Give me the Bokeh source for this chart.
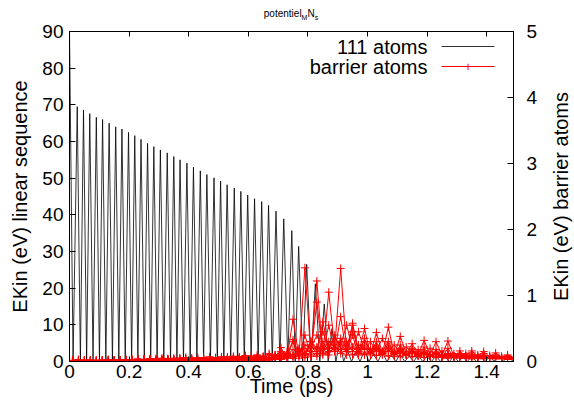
import math
from bokeh.plotting import figure
from bokeh.layouts import column, row
from bokeh.models import (Range1d, LinearAxis, FixedTicker, CustomJSTickFormatter,
                          Label, BoxAnnotation, Div)
from bokeh.embed import file_html
from bokeh.resources import INLINE

# ---------------- data ----------------
x_ticks = [0, 0.2, 0.4, 0.6, 0.8, 1.0, 1.2, 1.4]
y_left_ticks = [0, 10, 20, 30, 40, 50, 60, 70, 80, 90]
y_right_ticks = [0, 1, 2, 3, 4, 5]

# 111 atoms: starting value, then peak times / peak energies (eV), troughs at 0
black_start_t = 0.0
black_start_e = 90.0
black_peak_t = [0.026, 0.047, 0.068, 0.090, 0.111, 0.133, 0.155, 0.176, 0.198, 0.219,
                0.240, 0.262, 0.283, 0.305, 0.328, 0.350, 0.371, 0.394, 0.416, 0.439,
                0.461, 0.485, 0.507, 0.529, 0.553, 0.575, 0.598, 0.621, 0.645, 0.668,
                0.693, 0.719, 0.746, 0.769, 0.796, 0.825, 0.855, 0.881, 0.907, 0.933,
                0.960, 0.990, 1.020, 1.050, 1.080, 1.110, 1.140, 1.170, 1.200, 1.230,
                1.260, 1.290, 1.320, 1.350, 1.380, 1.410, 1.440, 1.470]
black_peak_e = [69.5, 68.6, 67.6, 66.6, 66.0, 65.0, 64.0, 63.4, 62.5, 61.6,
                60.6, 59.5, 58.6, 57.7, 56.9, 55.9, 55.0, 54.1, 53.0, 52.0,
                51.0, 50.1, 49.2, 48.2, 47.3, 46.4, 45.4, 44.4, 43.6, 42.6,
                41.0, 38.9, 35.7, 31.4, 26.5, 21.2, 15.7, 9.0, 5.5, 3.0,
                2.5, 3.0, 2.0, 2.5, 1.8, 2.0, 1.5, 1.8, 1.4, 1.6,
                1.3, 1.5, 1.2, 1.4, 1.2, 1.5, 1.8, 1.3]
black_trough_e = 0.0

# barrier atoms (right axis, eV)
barrier_t = [0.01, 0.03, 0.05, 0.07, 0.09, 0.11, 0.13, 0.15, 0.17, 0.19,
             0.21, 0.23, 0.25, 0.27, 0.29, 0.31, 0.33, 0.35, 0.37, 0.39,
             0.41, 0.43, 0.45, 0.47, 0.49, 0.51, 0.53, 0.55, 0.57, 0.59,
             0.61, 0.63, 0.65, 0.67, 0.69, 0.71, 0.73, 0.75, 0.77, 0.79,
             0.81, 0.83, 0.85, 0.87, 0.89, 0.91, 0.93, 0.95, 0.97, 0.99,
             1.01, 1.03, 1.05, 1.07, 1.09, 1.11, 1.13, 1.15, 1.17, 1.19,
             1.21, 1.23, 1.25, 1.27, 1.29, 1.31, 1.33, 1.35, 1.37, 1.39,
             1.41, 1.43, 1.45, 1.47, 1.49]
barrier_1 = [0.01, 0.02, 0.01, 0.01, 0.02, 0.01, 0.02, 0.01, 0.02, 0.02,
             0.03, 0.02, 0.03, 0.02, 0.03, 0.03, 0.04, 0.03, 0.04, 0.03,
             0.04, 0.03, 0.04, 0.04, 0.05, 0.04, 0.05, 0.04, 0.05, 0.06,
             0.06, 0.08, 0.05, 0.10, 0.06, 0.21, 0.05, 0.64, 0.08, 1.42,
             0.10, 0.90, 0.12, 0.55, 0.15, 0.68, 0.10, 0.58, 0.12, 0.50,
             0.10, 0.44, 0.12, 0.52, 0.10, 0.38, 0.12, 0.27, 0.10, 0.32,
             0.10, 0.30, 0.10, 0.31, 0.08, 0.16, 0.08, 0.16, 0.08, 0.15,
             0.07, 0.13, 0.06, 0.10, 0.06]
barrier_2 = [0.00, 0.01, 0.02, 0.01, 0.01, 0.02, 0.01, 0.02, 0.01, 0.02,
             0.02, 0.03, 0.02, 0.03, 0.02, 0.03, 0.03, 0.02, 0.03, 0.04,
             0.03, 0.04, 0.03, 0.04, 0.04, 0.05, 0.04, 0.05, 0.05, 0.04,
             0.03, 0.05, 0.04, 0.06, 0.05, 0.12, 0.08, 0.30, 0.05, 0.40,
             0.08, 1.22, 0.10, 1.05, 0.20, 1.41, 0.15, 0.40, 0.10, 0.35,
             0.12, 0.30, 0.10, 0.28, 0.08, 0.25, 0.10, 0.20, 0.08, 0.22,
             0.08, 0.18, 0.06, 0.20, 0.06, 0.12, 0.05, 0.13, 0.05, 0.12,
             0.05, 0.10, 0.05, 0.08, 0.05]
barrier_3 = [0.01, 0.01, 0.01, 0.02, 0.01, 0.01, 0.01, 0.02, 0.02, 0.01,
             0.02, 0.02, 0.03, 0.02, 0.02, 0.03, 0.02, 0.03, 0.03, 0.02,
             0.03, 0.03, 0.04, 0.03, 0.03, 0.04, 0.04, 0.03, 0.04, 0.05,
             0.02, 0.04, 0.03, 0.05, 0.08, 0.06, 0.10, 0.08, 0.15, 0.10,
             0.30, 0.20, 0.45, 0.20, 0.35, 0.25, 0.55, 0.20, 0.45, 0.18,
             0.30, 0.15, 0.35, 0.15, 0.25, 0.12, 0.22, 0.12, 0.18, 0.10,
             0.20, 0.08, 0.16, 0.08, 0.12, 0.07, 0.12, 0.06, 0.10, 0.06,
             0.09, 0.05, 0.08, 0.05, 0.06]
barrier_4 = [0.00, 0.00, 0.01, 0.01, 0.00, 0.01, 0.01, 0.01, 0.01, 0.01,
             0.01, 0.02, 0.01, 0.02, 0.02, 0.01, 0.02, 0.02, 0.02, 0.02,
             0.02, 0.03, 0.02, 0.03, 0.02, 0.03, 0.03, 0.03, 0.03, 0.04,
             0.04, 0.03, 0.06, 0.04, 0.10, 0.08, 0.14, 0.10, 0.18, 0.12,
             0.30, 0.15, 0.60, 0.20, 0.40, 0.18, 0.30, 0.15, 0.25, 0.20,
             0.18, 0.22, 0.15, 0.20, 0.14, 0.18, 0.12, 0.15, 0.12, 0.14,
             0.10, 0.13, 0.10, 0.12, 0.08, 0.10, 0.08, 0.09, 0.07, 0.09,
             0.06, 0.08, 0.06, 0.07, 0.05]
barrier_5 = [0.00, 0.00, 0.00, 0.01, 0.00, 0.00, 0.01, 0.00, 0.01, 0.00,
             0.01, 0.01, 0.01, 0.01, 0.01, 0.01, 0.01, 0.02, 0.01, 0.01,
             0.02, 0.02, 0.01, 0.02, 0.02, 0.02, 0.02, 0.02, 0.02, 0.02,
             0.01, 0.02, 0.03, 0.02, 0.04, 0.03, 0.06, 0.05, 0.10, 0.06,
             0.15, 0.08, 0.20, 0.10, 0.25, 0.12, 0.18, 0.10, 0.15, 0.10,
             0.14, 0.09, 0.12, 0.08, 0.12, 0.07, 0.10, 0.07, 0.09, 0.06,
             0.08, 0.06, 0.08, 0.05, 0.07, 0.05, 0.06, 0.04, 0.06, 0.04,
             0.05, 0.04, 0.05, 0.03, 0.04]
barrier_6 = [0.01, 0.03, 0.01, 0.02, 0.01, 0.02, 0.02, 0.01, 0.02, 0.02,
             0.02, 0.03, 0.03, 0.04, 0.03, 0.03, 0.04, 0.03, 0.04, 0.05,
             0.04, 0.05, 0.04, 0.05, 0.05, 0.06, 0.05, 0.06, 0.06, 0.08,
             0.02, 0.03, 0.02, 0.04, 0.03, 0.05, 0.08, 0.33, 0.12, 0.25,
             0.20, 0.40, 0.18, 0.30, 0.22, 0.35, 0.20, 0.55, 0.18, 0.25,
             0.15, 0.20, 0.14, 0.22, 0.12, 0.16, 0.10, 0.14, 0.09, 0.12,
             0.08, 0.11, 0.07, 0.09, 0.06, 0.08, 0.06, 0.07, 0.05, 0.07,
             0.05, 0.06, 0.04, 0.06, 0.04]
barrier_7 = [0.02, 0.01, 0.02, 0.02, 0.01, 0.02, 0.03, 0.02, 0.02, 0.03,
             0.03, 0.04, 0.03, 0.04, 0.04, 0.05, 0.04, 0.05, 0.05, 0.06,
             0.05, 0.06, 0.06, 0.07, 0.06, 0.07, 0.07, 0.08, 0.07, 0.09,
             0.08, 0.10, 0.07, 0.12, 0.09, 0.15, 0.10, 0.18, 0.12, 0.20,
             0.15, 0.22, 0.14, 0.25, 0.16, 0.28, 0.15, 0.22, 0.14, 0.20,
             0.13, 0.18, 0.14, 0.16, 0.12, 0.15, 0.11, 0.14, 0.10, 0.13,
             0.10, 0.12, 0.09, 0.11, 0.08, 0.10, 0.08, 0.09, 0.07, 0.09,
             0.07, 0.08, 0.06, 0.08, 0.06]
barrier_8 = [0.00, 0.01, 0.01, 0.00, 0.01, 0.01, 0.00, 0.01, 0.01, 0.01,
             0.01, 0.01, 0.02, 0.01, 0.01, 0.02, 0.01, 0.02, 0.02, 0.01,
             0.02, 0.02, 0.03, 0.02, 0.02, 0.03, 0.03, 0.04, 0.03, 0.04,
             0.05, 0.06, 0.08, 0.06, 0.10, 0.07, 0.12, 0.08, 0.20, 0.10,
             0.25, 0.12, 0.30, 0.15, 0.20, 0.18, 0.25, 0.45, 0.20, 0.30,
             0.18, 0.25, 0.15, 0.30, 0.12, 0.20, 0.10, 0.18, 0.10, 0.16,
             0.09, 0.14, 0.08, 0.12, 0.07, 0.11, 0.07, 0.10, 0.06, 0.09,
             0.06, 0.08, 0.05, 0.07, 0.05]
barrier_series = [barrier_1, barrier_2, barrier_3, barrier_4,
                  barrier_5, barrier_6, barrier_7, barrier_8]

# build black curve: start, then trough / peak alternation
black_t = [black_start_t]
black_e = [black_start_e]
prev = black_start_t
for i, (t, e) in enumerate(zip(black_peak_t, black_peak_e)):
    trough_t = (prev + t) / 2 if i > 0 else 0.012
    black_t += [trough_t, t]
    black_e += [black_trough_e, e]
    prev = t
black_t.append(1.49)
black_e.append(black_trough_e)

FONT = "Liberation Sans"
TITLE_H = 22
FIG_W = 549
FIG_H = 403 - TITLE_H

title = Div(text=("<div style=\"width:574px;text-align:center;font-family:'Liberation Sans';"
                  "font-size:10px;line-height:12px;padding-top:8px;padding-left:8px;"
                  "box-sizing:border-box;color:black\">potentiel"
                  "<sub style=\"font-size:7px\">M</sub>N<sub style=\"font-size:7px\">s</sub></div>"),
            width=574, height=TITLE_H, margin=(0, 0, 0, 0))

right_label = Div(text=("<div style=\"width:25px;height:330px;margin-top:9px;display:flex;"
                        "align-items:center;justify-content:center;\">"
                        "<span style=\"writing-mode:vertical-rl;transform:rotate(180deg);"
                        "font-family:'Liberation Sans';font-size:20px;white-space:nowrap;"
                        "color:black\">EKin (eV) barrier atoms</span></div>"),
                  width=574 - FIG_W, height=FIG_H, margin=(0, 0, 0, 0))

p = figure(width=FIG_W, height=FIG_H, output_backend="svg", toolbar_location=None,
           x_range=Range1d(0, 1.49), y_range=Range1d(0, 90),
           min_border_left=69, min_border_right=36, min_border_top=31 - TITLE_H,
           min_border_bottom=42, margin=(0, 0, 0, 0))
p.extra_y_ranges = {"barrier": Range1d(0, 5)}
p.grid.visible = False
p.outline_line_color = "black"
p.outline_line_width = 1
p.background_fill_color = "white"
p.border_fill_color = "white"

# bottom axis
xa = p.xaxis[0]
xa.ticker = FixedTicker(ticks=x_ticks)
xa.formatter = CustomJSTickFormatter(code="return String(Math.round(tick*10)/10);")
xa.major_tick_in = 5
xa.major_tick_out = 0
xa.minor_tick_line_color = None
xa.major_label_standoff = 3
xa.major_label_text_font = FONT
xa.major_label_text_font_size = "19px"
xa.major_label_text_color = "black"
xa.axis_label = "Time (ps)"
xa.axis_label_text_font = FONT
xa.axis_label_text_font_size = "20px"
xa.axis_label_text_font_style = "normal"
xa.axis_label_text_color = "black"
xa.axis_label_standoff = -6
xa.axis_line_color = "black"

# left axis
ya = p.yaxis[0]
ya.ticker = FixedTicker(ticks=y_left_ticks)
ya.major_tick_in = 6
ya.major_tick_out = 0
ya.minor_tick_line_color = None
ya.major_label_standoff = 6
ya.major_label_text_font = FONT
ya.major_label_text_font_size = "19px"
ya.major_label_text_color = "black"
ya.axis_label = "EKin (eV) linear sequence"
ya.axis_label_text_font = FONT
ya.axis_label_text_font_size = "20px"
ya.axis_label_text_font_style = "normal"
ya.axis_label_text_color = "black"
ya.axis_label_standoff = 8
ya.axis_line_color = "black"

# top mirror axis (ticks only)
top = LinearAxis(ticker=FixedTicker(ticks=x_ticks), major_tick_in=5, major_tick_out=0,
                 minor_tick_line_color=None,
                 formatter=CustomJSTickFormatter(code="return '';"),
                 major_label_text_color=None, major_label_text_font_size="1px",
                 major_label_standoff=0, axis_line_color="black")
p.add_layout(top, "above")

# right axis (barrier)
ra = LinearAxis(y_range_name="barrier", ticker=FixedTicker(ticks=y_right_ticks),
                major_tick_in=6, major_tick_out=0, minor_tick_line_color=None,
                major_label_standoff=13, major_label_text_font=FONT,
                major_label_text_font_size="19px", major_label_text_color="black",
                axis_line_color="black")
p.add_layout(ra, "right")

# data
p.line(black_t, black_e, line_color="black", line_width=0.8)
for s in barrier_series:
    p.line(barrier_t, s, y_range_name="barrier", line_color="#ff0000", line_width=1)
    p.scatter(barrier_t, s, y_range_name="barrier", marker="cross", size=8,
              line_color="#ff0000", line_width=1)

# legend (gnuplot style: text right-aligned, sample on the right)
def lab(x, y, text, size, **kw):
    kw.setdefault("text_color", "black")
    l = Label(x=x, y=y, x_units="screen", y_units="screen", text=text,
              text_font=FONT, text_font_size=size, **kw)
    p.add_layout(l)
    return l

lab(358, 315, "111 atoms", "20px", text_align="right", text_baseline="middle")
lab(358, 295, "barrier atoms", "20px", text_align="right", text_baseline="middle")
p.add_layout(BoxAnnotation(left=372, right=425, bottom=314.5, top=315.5,
                           left_units="screen", right_units="screen",
                           bottom_units="screen", top_units="screen",
                           fill_color="black", fill_alpha=0.8, line_color=None))
p.add_layout(BoxAnnotation(left=372, right=425, bottom=294.5, top=295.5,
                           left_units="screen", right_units="screen",
                           bottom_units="screen", top_units="screen",
                           fill_color="#ff0000", fill_alpha=1, line_color=None))
lab(398.5, 295, "+", "13px", text_align="center", text_baseline="middle",
    text_color="#ff0000")

layout = column(title, row(p, right_label, spacing=0, margin=(0, 0, 0, 0)),
                spacing=0, margin=(0, 0, 0, 0))
open("out.html", "w").write(file_html(layout, INLINE))
